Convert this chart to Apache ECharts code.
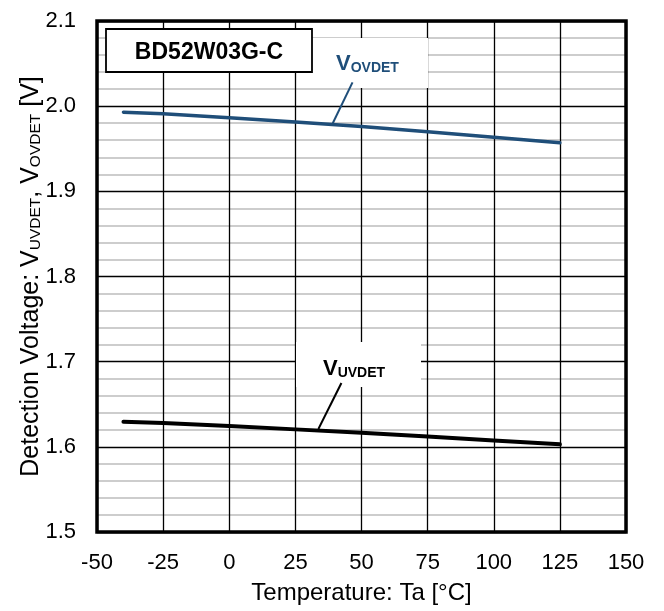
<!DOCTYPE html>
<html>
<head>
<meta charset="utf-8">
<script src="https://cdn.jsdelivr.net/npm/echarts@6/dist/echarts.min.js"></script>
<style>
html,body{margin:0;padding:0;background:#fff;}
#c{width:664px;height:611px;}
</style>
</head>
<body>
<div id="c"></div>
<script>
// ---- data ----
var temperatures = [-40, -25, 0, 25, 50, 75, 100, 125];
var vOVDET = [1.993, 1.991, 1.9865, 1.9815, 1.976, 1.970, 1.9635, 1.957];
var vUVDET = [1.6295, 1.628, 1.6245, 1.6205, 1.6165, 1.612, 1.6075, 1.603];
var xTicks = [-50, -25, 0, 25, 50, 75, 100, 125, 150];
var yTicks = ['1.5', '1.6', '1.7', '1.8', '1.9', '2.0', '2.1'];
var deviceName = 'BD52W03G-C';

var FONT = "'Liberation Sans', Arial, sans-serif";
var BLUE = '#1f4e79';

function pairs(xs, ys) { return xs.map(function (x, i) { return [x, ys[i]]; }); }

var chart = echarts.init(document.getElementById('c'), null, {renderer: 'canvas'});
var option = {
  animation: false,
  backgroundColor: '#fff',
  grid: {left: 97, right: 38, top: 21, bottom: 79, show: true, borderColor: '#000', borderWidth: 3.5, backgroundColor: 'transparent', z: 3},
  xAxis: {
    type: 'value', min: -50, max: 150, interval: 25,
    name: 'Temperature: Ta [°C]', nameLocation: 'middle', nameGap: 49, nameMoveOverlap: false,
    nameTextStyle: {fontFamily: FONT, fontSize: 24, color: '#000'},
    axisLine: {show: false}, axisTick: {show: false},
    axisLabel: {fontFamily: FONT, fontSize: 22, color: '#000', margin: 20,
      formatter: function (v) { return xTicks.indexOf(v) >= 0 ? String(v) : ''; }},
    splitLine: {show: true, lineStyle: {color: '#000', width: 1.3}}
  },
  yAxis: {
    type: 'value', min: 1.5, max: 2.1, interval: 0.1,
    name: '{n|Detection Voltage: V}{s|UVDET}{n|, V}{s|OVDET}{n| [V]}',
    nameLocation: 'middle', nameGap: 53, nameRotate: 90, nameMoveOverlap: false,
    nameTextStyle: {fontFamily: FONT, fontSize: 25, color: '#000',
      rich: {
        n: {fontFamily: FONT, fontSize: 25, color: '#000', verticalAlign: 'bottom'},
        s: {fontFamily: FONT, fontSize: 15.5, color: '#000', verticalAlign: 'bottom'}
      }},
    axisLine: {show: false}, axisTick: {show: false},
    axisLabel: {fontFamily: FONT, fontSize: 22, color: '#000', margin: 21,
      formatter: function (v) {
        var s = v.toFixed(1);
        return yTicks.indexOf(s) >= 0 ? s : '';
      }},
    splitLine: {show: true, lineStyle: {color: '#000', width: 1.3}},
    minorTick: {show: false, splitNumber: 5},
    minorSplitLine: {show: true, lineStyle: {color: '#bdbdbd', width: 1.5}}
  },
  series: [
    {name: 'VOVDET', type: 'line', data: pairs(temperatures, vOVDET), showSymbol: false, symbol: 'none',
      lineStyle: {color: BLUE, width: 3.5, cap: 'round'}, z: 4},
    {name: 'VUVDET', type: 'line', data: pairs(temperatures, vUVDET), showSymbol: false, symbol: 'none',
      lineStyle: {color: '#000', width: 4, cap: 'round'}, z: 4}
  ]
};
chart.setOption(option);

function P(x, y) { return chart.convertToPixel({gridIndex: 0}, [x, y]); }

// annotation anchors (data coordinates)
var ovA = P(46.6, 2.028), ovB = P(39.0, 1.979);
var uvA = P(42.4, 1.675), uvB = P(33.7, 1.621);

chart.setOption({
  graphic: [
    {type: 'rect', z: 1, shape: {x: 312, y: 38, width: 116, height: 50}, style: {fill: '#fff'}},
    {type: 'rect', z: 1, shape: {x: 296, y: 342, width: 125, height: 45}, style: {fill: '#fff'}},
    {type: 'rect', z: 5, shape: {x: 106, y: 29, width: 206, height: 43}, style: {fill: '#fff', stroke: '#000', lineWidth: 1.8}},
    {type: 'text', z: 6, x: 209, y: 53, style: {text: deviceName, fontFamily: FONT, fontSize: 23, fontWeight: 'bold', fill: '#000', align: 'center', verticalAlign: 'middle'}},
    {type: 'text', z: 6, x: 336, y: 75, style: {text: '{v|V}{s|OVDET}', align: 'left', verticalAlign: 'bottom',
      rich: {v: {fontFamily: FONT, fontSize: 22, fontWeight: 'bold', fill: BLUE, verticalAlign: 'bottom'},
             s: {fontFamily: FONT, fontSize: 14, fontWeight: 'bold', fill: BLUE, verticalAlign: 'bottom'}}}},
    {type: 'text', z: 6, x: 323, y: 380, style: {text: '{v|V}{s|UVDET}', align: 'left', verticalAlign: 'bottom',
      rich: {v: {fontFamily: FONT, fontSize: 22, fontWeight: 'bold', fill: '#000', verticalAlign: 'bottom'},
             s: {fontFamily: FONT, fontSize: 14, fontWeight: 'bold', fill: '#000', verticalAlign: 'bottom'}}}},
    {type: 'line', z: 6, shape: {x1: ovA[0], y1: ovA[1], x2: ovB[0], y2: ovB[1]}, style: {stroke: BLUE, lineWidth: 2}},
    {type: 'line', z: 6, shape: {x1: uvA[0], y1: uvA[1], x2: uvB[0], y2: uvB[1]}, style: {stroke: '#000', lineWidth: 2}}
  ]
});
</script>
</body>
</html>
